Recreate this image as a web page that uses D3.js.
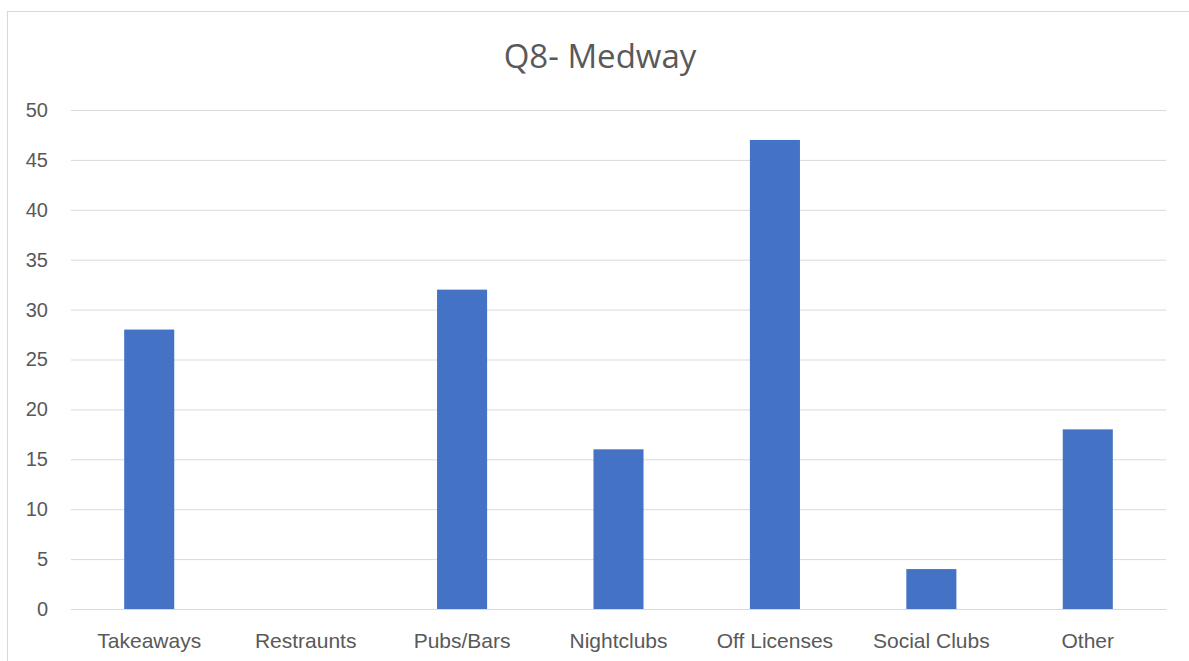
<!DOCTYPE html>
<html>
<head>
<meta charset="utf-8">
<script src="https://cdn.jsdelivr.net/npm/d3@7"></script>
<style>
  body { margin: 0; background: #fff; }
  svg { display: block; font-family: "Open Sans", "Noto Sans", sans-serif; }
</style>
</head>
<body>
<svg id="chart"></svg>
<script>
const categories = ["Takeaways", "Restraunts", "Pubs/Bars", "Nightclubs", "Off Licenses", "Social Clubs", "Other"];
const values = [28, 0, 32, 16, 47, 4, 18];
const yTicks = [0, 5, 10, 15, 20, 25, 30, 35, 40, 45, 50];

const width = 1189;
const height = 661;
const margin = {top: 110, right: 23, bottom: 52, left: 71};

const svg = d3.select("#chart")
              .attr("width", width)
              .attr("height", height);

// chart border
svg.append("rect")
   .attr("x", 7.5)
   .attr("y", 11.5)
   .attr("width", width)
   .attr("height", height)
   .attr("fill", "none")
   .attr("stroke", "#d9d9d9")
   .attr("stroke-width", 1);

const x = d3.scaleBand()
            .domain(categories)
            .range([margin.left, width - margin.right])
            .paddingInner(0.68)
            .paddingOuter(0.34);

const y = d3.scaleLinear()
            .domain([0, 50])
            .range([height - margin.bottom, margin.top]);

svg.append("text")
   .attr("x", 600)
   .attr("y", 68)
   .attr("text-anchor", "middle")
   .attr("fill", "#595959")
   .style("font-size", "33px")
   .text("Q8- Medway");

const yAxis = svg.append("g")
                 .attr("transform", "translate(" + margin.left + ",0)")
                 .call(d3.axisLeft(y).tickValues(yTicks).tickSize(-(width - margin.left - margin.right)).tickPadding(23));

yAxis.select(".domain").remove();
yAxis.selectAll(".tick line").attr("stroke", "#d9d9d9");
yAxis.selectAll(".tick text")
     .attr("fill", "#595959")
     .style("font-size", "20px");

svg.append("g")
   .selectAll("rect")
   .data(values)
   .enter()
   .append("rect")
   .attr("x", (d, i) => x(categories[i]))
   .attr("y", d => y(d))
   .attr("width", x.bandwidth())
   .attr("height", d => y(0) - y(d))
   .attr("fill", "#4472c4");

const xAxis = svg.append("g")
                 .attr("transform", "translate(0," + y(0) + ")")
                 .call(d3.axisBottom(x).tickSize(0).tickPadding(24));

xAxis.select(".domain").attr("stroke", "#d9d9d9");
xAxis.selectAll(".tick text")
     .attr("fill", "#595959")
     .style("font-size", "21px");
</script>
</body>
</html>
